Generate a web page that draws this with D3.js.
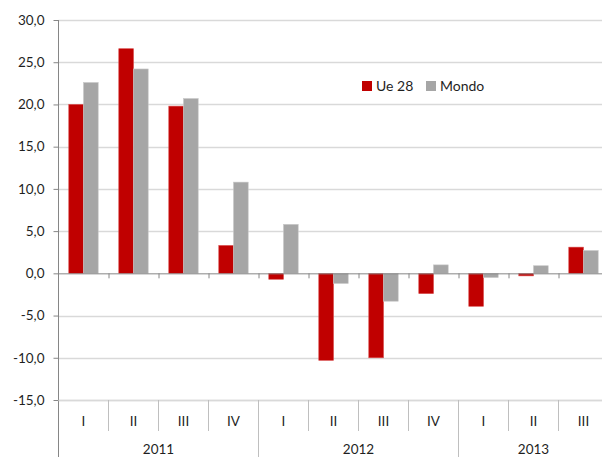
<!DOCTYPE html>
<html>
<head>
<meta charset="utf-8">
<script src="https://cdn.jsdelivr.net/npm/d3@7"></script>
<style>
  body { margin: 0; background: #fff; }
  svg text { font-family: Lato, "Open Sans", sans-serif; fill: #1f1f1f; }
</style>
</head>
<body>
<div class="chart"></div>
<script>
// quarterly values (%)
const quarters = ['I', 'II', 'III', 'IV', 'I', 'II', 'III', 'IV', 'I', 'II', 'III'];
const years = [
    {label: '2011', count: 4},
    {label: '2012', count: 4},
    {label: '2013', count: 3}
];
const ue28 = [20.0, 26.6, 19.8, 3.3, -0.7, -10.3, -10.0, -2.4, -3.9, -0.3, 3.1];
const mondo = [22.6, 24.2, 20.7, 10.8, 5.8, -1.2, -3.3, 1.0, -0.5, 0.9, 2.7];
const seriesNames = ['Ue 28', 'Mondo'];
const seriesColors = ['#C00000', '#A6A6A6'];
const yTicks = [-15, -10, -5, 0, 5, 10, 15, 20, 25, 30];

const svg_width = 602;
const svg_height = 457;
const left = 58.5;
const catWidth = 50;

const svg = d3.select('.chart').append('svg')
              .attr('width', svg_width)
              .attr('height', svg_height);

const yScale = d3.scaleLinear().domain([-15, 30]).range([400, 20]);
const xIdx = d3.scaleLinear().domain([0, quarters.length]).range([left, left + catWidth * quarters.length]);
const xBand = d3.scaleBand().domain(d3.range(quarters.length)).range(xIdx.range()).padding(0);
const xInner = d3.scaleBand().domain(d3.range(seriesNames.length))
                 .range([0, xBand.bandwidth()]).paddingInner(0).paddingOuter(0.7);

// gridlines
svg.append('g').attr('class', 'grid')
   .selectAll('line').data(yTicks.filter(d => d !== 0)).enter()
   .append('line')
   .attr('x1', left).attr('x2', svg_width)
   .attr('y1', d => Math.round(yScale(d)) + 0.5).attr('y2', d => Math.round(yScale(d)) + 0.5)
   .style('stroke', '#D9D9D9').style('stroke-width', 1.3);

// bars
const rows = quarters.map((q, i) => [ue28[i], mondo[i]]);
svg.append('g').attr('class', 'bars')
   .selectAll('g').data(rows).enter()
   .append('g')
   .attr('transform', (d, i) => `translate(${xBand(i)},0)`)
   .selectAll('rect').data(d => d.map((v, s) => ({v, s}))).enter()
   .append('rect')
   .attr('x', d => xInner(d.s))
   .attr('width', xInner.bandwidth())
   .attr('y', d => yScale(Math.max(0, d.v)))
   .attr('height', d => Math.abs(yScale(d.v) - yScale(0)))
   .style('fill', d => seriesColors[d.s])
   .style('stroke', d => d.s === 0 ? '#D84848' : '#C8C8C8')
   .style('stroke-width', 0.6);

// zero axis with ticks
const xAxis = d3.axisBottom(xIdx).tickValues(d3.range(1, quarters.length))
                .tickFormat('').tickSizeInner(5).tickSizeOuter(0);
const xg = svg.append('g').attr('class', 'xaxis')
              .attr('transform', `translate(0, ${yScale(0)})`)
              .call(xAxis);
xg.selectAll('path, line').style('stroke', '#868686');

// y axis
const yAxis = d3.axisLeft(yScale).tickValues(yTicks)
                .tickFormat(d => d3.format('.1f')(d).replace('.', ',').replace('−', '-'))
                .tickSizeInner(5).tickSizeOuter(0);
const yg = svg.append('g').attr('class', 'yaxis')
              .attr('transform', `translate(${left}, 0)`)
              .call(yAxis);
yg.select('.domain').remove();
yg.selectAll('line').style('stroke', '#868686');
yg.selectAll('text').style('font-size', '13.5px').attr('x', -14);
svg.append('line')
   .attr('x1', left).attr('x2', left).attr('y1', 20).attr('y2', svg_height)
   .style('stroke', '#868686');

// category table below the plot
const table = svg.append('g').attr('class', 'category-table');
table.append('line')
     .attr('x1', left).attr('x2', svg_width)
     .attr('y1', 400.5).attr('y2', 400.5)
     .style('stroke', '#D9D9D9').style('stroke-width', 1.3);

let yearStarts = [];
let acc = 0;
years.forEach(y => { yearStarts.push(acc); acc += y.count; });

table.selectAll('.q-sep').data(d3.range(1, quarters.length + 1)).enter()
     .append('line')
     .attr('class', 'q-sep')
     .attr('x1', d => xIdx(d)).attr('x2', d => xIdx(d))
     .attr('y1', 400).attr('y2', d => yearStarts.includes(d) ? svg_height : 431)
     .style('stroke', '#BFBFBF');

table.selectAll('.q-label').data(quarters).enter()
     .append('text')
     .attr('class', 'q-label')
     .attr('x', (d, i) => xBand(i) + xBand.bandwidth() / 2)
     .attr('y', 426)
     .attr('text-anchor', 'middle')
     .style('font-size', '13.5px')
     .text(d => d);

table.selectAll('.y-label').data(years).enter()
     .append('text')
     .attr('class', 'y-label')
     .attr('x', (d, i) => (xIdx(yearStarts[i]) + xIdx(yearStarts[i] + d.count)) / 2)
     .attr('y', 454)
     .attr('text-anchor', 'middle')
     .style('font-size', '13.5px')
     .text(d => d.label);

// legend
const legend = svg.append('g').attr('class', 'legend')
                  .attr('transform', 'translate(362, 81)');
const legendX = [0, 64];
seriesNames.forEach((name, i) => {
    legend.append('rect')
          .attr('x', legendX[i]).attr('y', 0)
          .attr('width', 10).attr('height', 10)
          .style('fill', seriesColors[i]);
    legend.append('text')
          .attr('x', legendX[i] + 14).attr('y', 10)
          .style('font-size', '14px')
          .text(name);
});
</script>
</body>
</html>
